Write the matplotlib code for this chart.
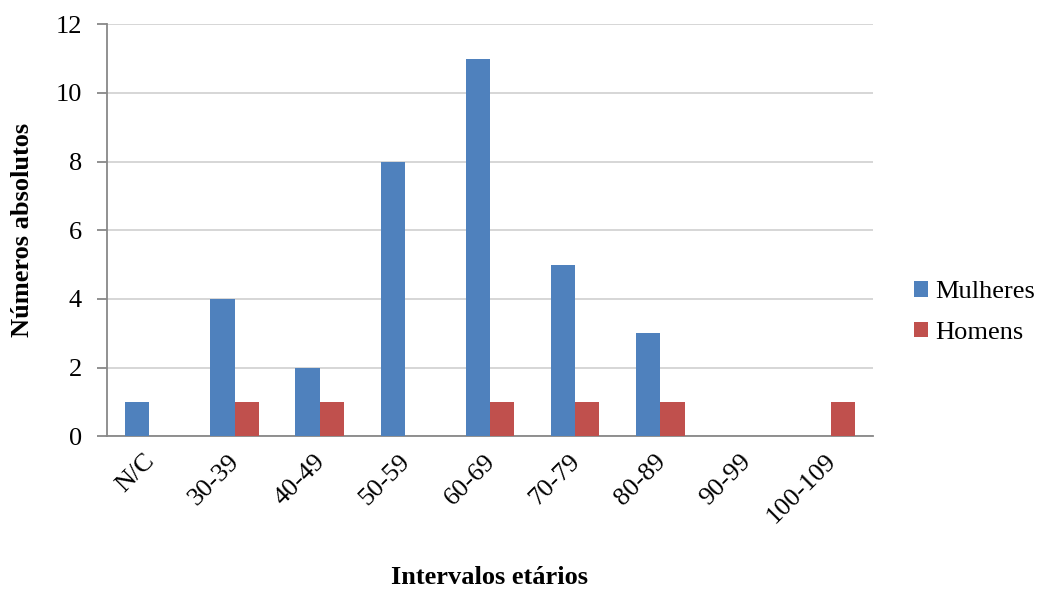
import numpy as np
import matplotlib.pyplot as plt
from matplotlib.transforms import ScaledTranslation

plt.rcParams['font.family'] = ['Liberation Serif', 'DejaVu Serif']

categories = ["N/C", "30-39", "40-49", "50-59", "60-69", "70-79", "80-89", "90-99", "100-109"]
mulheres = [1, 4, 2, 8, 11, 5, 3, 0, 0]
homens = [0, 1, 1, 0, 1, 1, 1, 0, 1]

blue = "#4F81BD"
red = "#C0504D"

fig = plt.figure(figsize=(10.37, 5.91), dpi=100)
ax = fig.add_axes([0.103, 0.262, 0.739, 0.697])

x = np.arange(len(categories))
w = 0.285
ax.bar(x - w / 2, mulheres, w, color=blue, label="Mulheres", zorder=3)
ax.bar(x + w / 2, homens, w, color=red, label="Homens", zorder=3)

ax.set_xlim(-0.5, len(categories) - 0.5)
ax.set_ylim(0, 12)
ax.set_yticks(range(0, 13, 2))
ax.yaxis.grid(True, color="#D0D0D0", linewidth=1.2, zorder=0)

for side in ["top", "right"]:
    ax.spines[side].set_visible(False)
ax.spines["left"].set_color("#888888")
ax.spines["bottom"].set_color("#888888")
ax.spines["left"].set_linewidth(1.3)
ax.spines["bottom"].set_linewidth(1.3)

ax.set_xticks(x)
ax.set_xticklabels(categories, rotation=45, ha="right", rotation_mode="anchor", fontsize=19)
ax.tick_params(axis="x", length=0, pad=10)
ax.tick_params(axis="y", labelsize=19, length=7, color="#888888", width=1.3, pad=11)
# nudge rotated labels a little to the left
shift = ScaledTranslation(-6 / 100, 0, fig.dpi_scale_trans)
for lbl in ax.get_xticklabels():
    lbl.set_transform(lbl.get_transform() + shift)

ax.set_xlabel("Intervalos etários", fontsize=19, fontweight="bold")
ax.set_ylabel("Números absolutos", fontsize=19, fontweight="bold")
ax.xaxis.set_label_coords(0.5, -0.315)
ax.yaxis.set_label_coords(-0.095, 0.5)

ax.legend(loc="center left", bbox_to_anchor=(1.053, 0.30), frameon=False, fontsize=19,
          borderaxespad=0, borderpad=0,
          handlelength=0.53, handleheight=0.53, handletextpad=0.27, labelspacing=0.7)

fig.savefig("out.png", dpi=100)
